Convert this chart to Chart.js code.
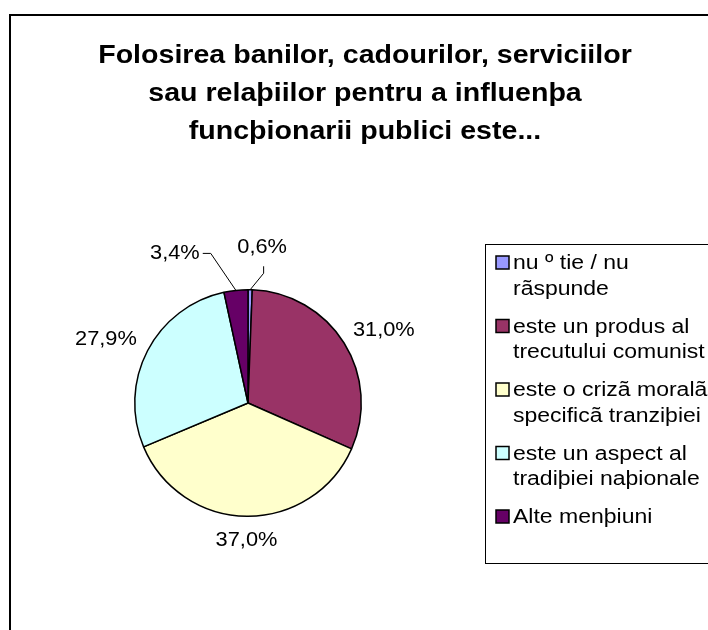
<!DOCTYPE html>
<html>
<head>
<meta charset="utf-8">
<script src="https://cdn.jsdelivr.net/npm/chart.js@4.4.1/dist/chart.umd.min.js"></script>
<style>
  html, body { margin: 0; padding: 0; background: #fff; }
  #wrap { width: 708px; height: 630px; }
</style>
</head>
<body>
<div id="wrap"><canvas id="pieChart" width="708" height="630"></canvas></div>
<script>
// chart data
var titleLines = ["Folosirea banilor, cadourilor, serviciilor", "sau relaþiilor pentru a influenþa", "funcþionarii publici este..."];
var categories = [
    ["nu º tie / nu", "rãspunde"],
    ["este un produs al", "trecutului comunist"],
    ["este o crizã moralã", "specificã tranziþiei"],
    ["este un aspect al", "tradiþiei naþionale"],
    ["Alte menþiuni"]
];
var values = [0.6, 31.0, 37.0, 27.9, 3.4];
var sliceColors = ["#9999FF", "#993366", "#FFFFCC", "#CCFFFF", "#660066"];

// small slices get their label pulled away with a leader line
var labelShift = [[12, -42], null, null, null, [-61, -37]];
var leaderType = ["up", null, null, null, "left"];

var FONT = "'Liberation Sans', Arial, sans-serif";

function pctText(v) {
    return v.toFixed(1).replace(".", ",") + "%";
}

// the original text is rendered a bit wider than arial, so stretch it
function wideText(ctx, txt, x, y, sx, align) {
    ctx.save();
    ctx.translate(x, y);
    ctx.scale(sx, 1);
    ctx.textAlign = align;
    ctx.fillText(txt, 0, 0);
    ctx.restore();
}

var framePlugin = {
    id: "frame",
    beforeDraw: function (chart) {
        var ctx = chart.ctx;
        ctx.save();
        ctx.fillStyle = "#fff";
        ctx.fillRect(0, 0, chart.width, chart.height);
        ctx.strokeStyle = "#000";
        ctx.lineWidth = 2;
        ctx.strokeRect(10, 15, 720, 640);
        ctx.restore();
    },
    afterDraw: function (chart) {
        var ctx = chart.ctx;
        ctx.save();
        ctx.fillStyle = "#000";
        ctx.textBaseline = "alphabetic";

        // title
        ctx.font = "bold 25px " + FONT;
        for (var i = 0; i < titleLines.length; i++) {
            wideText(ctx, titleLines[i], 365, 63 + i * 38, 1.143, "center");
        }

        // legend box
        ctx.strokeStyle = "#000";
        ctx.lineWidth = 1;
        ctx.strokeRect(485.5, 244.5, 240, 319);

        ctx.font = "20px " + FONT;
        var base = 269;
        for (var k = 0; k < categories.length; k++) {
            var y0 = base + k * 63.5;
            ctx.fillStyle = sliceColors[k];
            ctx.fillRect(496, y0 - 13, 13, 13);
            ctx.strokeStyle = "#000";
            ctx.lineWidth = 1.5;
            ctx.strokeRect(496, y0 - 13, 13, 13);
            ctx.fillStyle = "#000";
            for (var j = 0; j < categories[k].length; j++) {
                wideText(ctx, categories[k][j], 513, y0 + j * 25.5, 1.15, "left");
            }
        }

        // data labels
        var meta = chart.getDatasetMeta(0);
        ctx.font = "20px " + FONT;
        ctx.textBaseline = "middle";
        meta.data.forEach(function (arc, idx) {
            var p = arc.getProps(["x", "y", "startAngle", "endAngle", "outerRadius"], true);
            var mid = (p.startAngle + p.endAngle) / 2;
            var txt = pctText(values[idx]);
            var w = ctx.measureText(txt).width * 1.09;
            var h = 16;
            var cx, cy;
            if (labelShift[idx]) {
                var rx = p.x + Math.cos(mid) * p.outerRadius;
                var ry = p.y + Math.sin(mid) * p.outerRadius;
                cx = rx + labelShift[idx][0];
                cy = ry + labelShift[idx][1];
                ctx.strokeStyle = "#000";
                ctx.lineWidth = 1;
                ctx.beginPath();
                ctx.moveTo(rx, ry);
                if (leaderType[idx] === "up") {
                    ctx.lineTo(cx + 1.5, cy + 25.5);
                    ctx.lineTo(cx + 1.5, cy + 18.5);
                } else {
                    ctx.lineTo(cx + w / 2 + 11, cy);
                    ctx.lineTo(cx + w / 2 + 3, cy);
                }
                ctx.stroke();
            } else {
                var r = p.outerRadius + 16;
                cx = p.x + Math.cos(mid) * r + Math.cos(mid) * w / 2;
                cy = p.y + Math.sin(mid) * r + Math.sin(mid) * h / 2;
            }
            ctx.fillStyle = "#000";
            wideText(ctx, txt, cx, cy, 1.09, "center");
        });
        ctx.restore();
    }
};

new Chart(document.getElementById("pieChart"), {
    type: "pie",
    data: {
        labels: categories.map(function (c) { return c.join(" "); }),
        datasets: [{
            data: values,
            backgroundColor: sliceColors,
            borderColor: "#000",
            borderWidth: 1.5
        }]
    },
    options: {
        responsive: false,
        animation: false,
        layout: {
            padding: { left: 134, right: 346, top: 289, bottom: 113 }
        },
        plugins: {
            legend: { display: false },
            title: { display: false },
            tooltip: { enabled: false }
        }
    },
    plugins: [framePlugin]
});
</script>
</body>
</html>
